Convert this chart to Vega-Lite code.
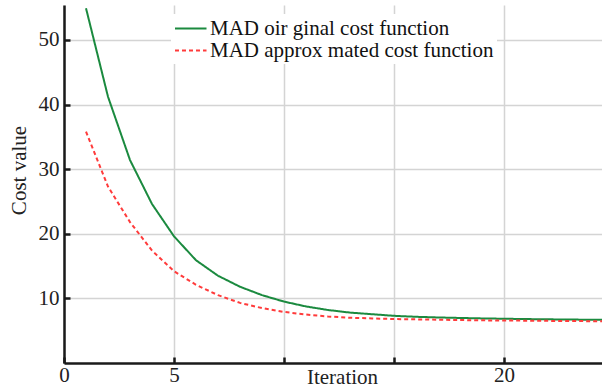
{
  "$schema": "https://vega.github.io/schema/vega-lite/v6.json",
  "width": 538,
  "height": 358,
  "autosize": {"type": "none"},
  "padding": {"left": 64, "top": 5, "right": 0, "bottom": 26},
  "background": "white",
  "config": {
    "font": "Liberation Serif",
    "view": {"stroke": null},
    "axis": {
      "domainColor": "#1a1a1a",
      "domainWidth": 2.5,
      "tickColor": "#1a1a1a",
      "tickWidth": 2.5,
      "tickSize": -6,
      "gridColor": "#d4d4d4",
      "gridWidth": 1.5,
      "labelFont": "Liberation Serif",
      "labelFontSize": 21,
      "labelColor": "#222222",
      "titleFont": "Liberation Serif",
      "titleFontSize": 21,
      "titleFontWeight": "normal",
      "titleColor": "#222222"
    }
  },
  "data": {
    "values": [
      {"series": "MAD oir ginal cost function", "iter": 1, "cost": 54.9},
      {"series": "MAD oir ginal cost function", "iter": 2, "cost": 41.2},
      {"series": "MAD oir ginal cost function", "iter": 3, "cost": 31.4},
      {"series": "MAD oir ginal cost function", "iter": 4, "cost": 24.6},
      {"series": "MAD oir ginal cost function", "iter": 5, "cost": 19.6},
      {"series": "MAD oir ginal cost function", "iter": 6, "cost": 15.9},
      {"series": "MAD oir ginal cost function", "iter": 7, "cost": 13.5},
      {"series": "MAD oir ginal cost function", "iter": 8, "cost": 11.8},
      {"series": "MAD oir ginal cost function", "iter": 9, "cost": 10.5},
      {"series": "MAD oir ginal cost function", "iter": 10, "cost": 9.5},
      {"series": "MAD oir ginal cost function", "iter": 11, "cost": 8.75},
      {"series": "MAD oir ginal cost function", "iter": 12, "cost": 8.2},
      {"series": "MAD oir ginal cost function", "iter": 13, "cost": 7.8},
      {"series": "MAD oir ginal cost function", "iter": 14, "cost": 7.55},
      {"series": "MAD oir ginal cost function", "iter": 15, "cost": 7.3},
      {"series": "MAD oir ginal cost function", "iter": 16, "cost": 7.15},
      {"series": "MAD oir ginal cost function", "iter": 17, "cost": 7.05},
      {"series": "MAD oir ginal cost function", "iter": 18, "cost": 6.97},
      {"series": "MAD oir ginal cost function", "iter": 19, "cost": 6.9},
      {"series": "MAD oir ginal cost function", "iter": 20, "cost": 6.85},
      {"series": "MAD oir ginal cost function", "iter": 21, "cost": 6.8},
      {"series": "MAD oir ginal cost function", "iter": 22, "cost": 6.76},
      {"series": "MAD oir ginal cost function", "iter": 23, "cost": 6.72},
      {"series": "MAD oir ginal cost function", "iter": 24, "cost": 6.7},
      {"series": "MAD oir ginal cost function", "iter": 25, "cost": 6.68},
      {"series": "MAD approx mated cost function", "iter": 1, "cost": 35.8},
      {"series": "MAD approx mated cost function", "iter": 2, "cost": 27.3},
      {"series": "MAD approx mated cost function", "iter": 3, "cost": 21.8},
      {"series": "MAD approx mated cost function", "iter": 4, "cost": 17.4},
      {"series": "MAD approx mated cost function", "iter": 5, "cost": 14.2},
      {"series": "MAD approx mated cost function", "iter": 6, "cost": 12.1},
      {"series": "MAD approx mated cost function", "iter": 7, "cost": 10.5},
      {"series": "MAD approx mated cost function", "iter": 8, "cost": 9.3},
      {"series": "MAD approx mated cost function", "iter": 9, "cost": 8.5},
      {"series": "MAD approx mated cost function", "iter": 10, "cost": 7.9},
      {"series": "MAD approx mated cost function", "iter": 11, "cost": 7.5},
      {"series": "MAD approx mated cost function", "iter": 12, "cost": 7.2},
      {"series": "MAD approx mated cost function", "iter": 13, "cost": 7.0},
      {"series": "MAD approx mated cost function", "iter": 14, "cost": 6.9},
      {"series": "MAD approx mated cost function", "iter": 15, "cost": 6.8},
      {"series": "MAD approx mated cost function", "iter": 16, "cost": 6.75},
      {"series": "MAD approx mated cost function", "iter": 17, "cost": 6.7},
      {"series": "MAD approx mated cost function", "iter": 18, "cost": 6.65},
      {"series": "MAD approx mated cost function", "iter": 19, "cost": 6.6},
      {"series": "MAD approx mated cost function", "iter": 20, "cost": 6.58},
      {"series": "MAD approx mated cost function", "iter": 21, "cost": 6.55},
      {"series": "MAD approx mated cost function", "iter": 22, "cost": 6.52},
      {"series": "MAD approx mated cost function", "iter": 23, "cost": 6.5},
      {"series": "MAD approx mated cost function", "iter": 24, "cost": 6.47},
      {"series": "MAD approx mated cost function", "iter": 25, "cost": 6.45}
    ]
  },
  "mark": {"type": "line", "clip": true, "strokeWidth": 2},
  "encoding": {
    "x": {
      "field": "iter",
      "type": "quantitative",
      "scale": {"domain": [0, 24.45], "nice": false, "zero": false},
      "axis": {
        "values": [0, 5, 10, 15, 20],
        "labelExpr": "datum.value == 10 || datum.value == 15 ? '' : datum.label",
        "labelFont": "Liberation Serif",
        "labelFontSize": 21,
        "labelBaseline": "alphabetic",
        "labelPadding": 24,
        "labelFlush": false,
        "labelOverlap": false,
        "title": "Iteration",
        "titleX": 278,
        "titleY": 20,
        "titleBaseline": "alphabetic",
        "titleAlign": "center"
      }
    },
    "y": {
      "field": "cost",
      "type": "quantitative",
      "scale": {"domain": [0, 55.4], "nice": false},
      "axis": {
        "values": [10, 20, 30, 40, 50],
        "labelFont": "Liberation Serif",
        "labelFontSize": 21,
        "labelPadding": 11,
        "title": "Cost value",
        "titleX": -39,
        "titleY": 165,
        "titleAngle": -90,
        "titleAlign": "center",
        "titleBaseline": "alphabetic"
      }
    },
    "color": {
      "field": "series",
      "type": "nominal",
      "scale": {
        "domain": ["MAD oir ginal cost function", "MAD approx mated cost function"],
        "range": ["#1b8a3f", "#ff3b3b"]
      },
      "legend": {
        "title": null,
        "orient": "none",
        "legendX": 107,
        "legendY": 9,
        "padding": 3,
        "fillColor": "white",
        "symbolType": "M-1,0H2",
        "symbolSize": 441,
        "symbolStrokeWidth": 2,
        "symbolFillColor": "transparent",
        "labelFont": "Liberation Serif",
        "labelFontSize": 21,
        "labelColor": "#111111",
        "labelOffset": 13,
        "labelLimit": 400,
        "rowPadding": 0
      }
    },
    "strokeDash": {
      "field": "series",
      "type": "nominal",
      "scale": {
        "domain": ["MAD oir ginal cost function", "MAD approx mated cost function"],
        "range": [[1, 0], [4, 3]]
      },
      "legend": null
    }
  }
}
